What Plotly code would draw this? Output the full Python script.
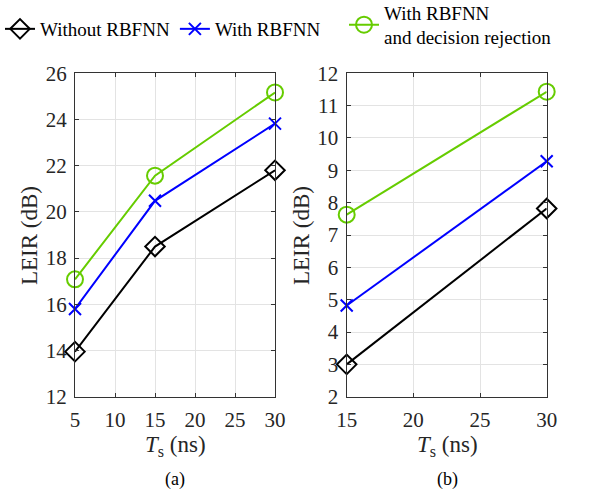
import plotly.graph_objects as go
from plotly.subplots import make_subplots

x_a = [5, 15, 30]
without_a = [13.95, 18.5, 21.8]
with_a = [15.8, 20.48, 23.82]
reject_a = [17.08, 21.57, 25.17]

x_b = [15, 30]
without_b = [3.0, 7.82]
with_b = [4.82, 9.28]
reject_b = [7.63, 11.43]

names = ["Without RBFNN", "With RBFNN", "With RBFNN<br>and decision rejection"]
colors = ["black", "#0000ff", "#66cc00"]
symbols = ["diamond-open", "x-thin-open", "circle-open"]
sizes = [15, 12, 16]
legends = ["legend", "legend", "legend2"]

FONT = "Liberation Serif"
TXT = "#262626"
W, H = 596, 491

fig = make_subplots(rows=1, cols=2)
for i, (ya, yb) in enumerate(zip([without_a, with_a, reject_a], [without_b, with_b, reject_b])):
    mk = dict(symbol=symbols[i], size=sizes[i], color=colors[i],
              line=dict(color=colors[i], width=2))
    fig.add_trace(go.Scatter(x=x_a, y=ya, mode="lines+markers", name=names[i],
                             line=dict(color=colors[i], width=2), marker=mk,
                             legend=legends[i], legendgroup=str(i), cliponaxis=False), row=1, col=1)
    fig.add_trace(go.Scatter(x=x_b, y=yb, mode="lines+markers", name=names[i],
                             line=dict(color=colors[i], width=2), marker=mk,
                             legend=legends[i], legendgroup=str(i), showlegend=False,
                             cliponaxis=False), row=1, col=2)

axis_common = dict(showgrid=True, gridcolor="#e3e3e3", gridwidth=1,
                   showline=True, linecolor="#333333", linewidth=1.3, mirror="ticks",
                   ticks="inside", ticklen=4, tickcolor="#333333",
                   tickfont=dict(family=FONT, size=21, color=TXT),
                   zeroline=False, automargin=False)

fig.update_xaxes(**axis_common, ticklabelstandoff=4)
fig.update_yaxes(**axis_common, ticklabelstandoff=3)

y0, y1 = 1 - 396.7 / H, 1 - 73.3 / H
fig.update_xaxes(range=[5, 30], tickvals=[5, 10, 15, 20, 25, 30], domain=[75 / W, 275 / W], row=1, col=1)
fig.update_xaxes(range=[15, 30], tickvals=[15, 20, 25, 30], domain=[346.7 / W, 546.7 / W], row=1, col=2)
fig.update_yaxes(range=[12, 26], tickvals=list(range(12, 27, 2)), domain=[y0, y1], row=1, col=1)
fig.update_yaxes(range=[2, 12], tickvals=list(range(2, 13)), domain=[y0, y1], row=1, col=2)

def txt(text, x, y, size, angle=0, color=TXT):
    fig.add_annotation(text=text, x=x / W, y=1 - y / H, xref="paper", yref="paper",
                       showarrow=False, textangle=angle, xanchor="center", yanchor="middle",
                       font=dict(family=FONT, size=size, color=color))

txt("LEIR (dB)", 29, 236, 23, -90)
txt("LEIR (dB)", 301, 236, 23, -90)
txt("<i>T</i><sub>s</sub> (ns)", 175, 446, 23)
txt("<i>T</i><sub>s</sub> (ns)", 447, 446, 23)
txt("(a)", 175, 479, 18, color="black")
txt("(b)", 447, 479, 18, color="black")

leg_common = dict(orientation="h", xanchor="left", yanchor="middle",
                  font=dict(family=FONT, size=19, color="black"),
                  itemwidth=30, tracegroupgap=0, valign="middle",
                  bgcolor="rgba(0,0,0,0)")

fig.update_layout(
    width=W, height=H,
    margin=dict(l=0, r=0, t=0, b=0, autoexpand=False),
    paper_bgcolor="white", plot_bgcolor="white",
    showlegend=True,
    legend=dict(x=0.0, y=1 - 29 / H, **leg_common),
    legend2=dict(x=344 / W, y=1 - 25 / H, **leg_common),
)

fig.write_html("out.html")
